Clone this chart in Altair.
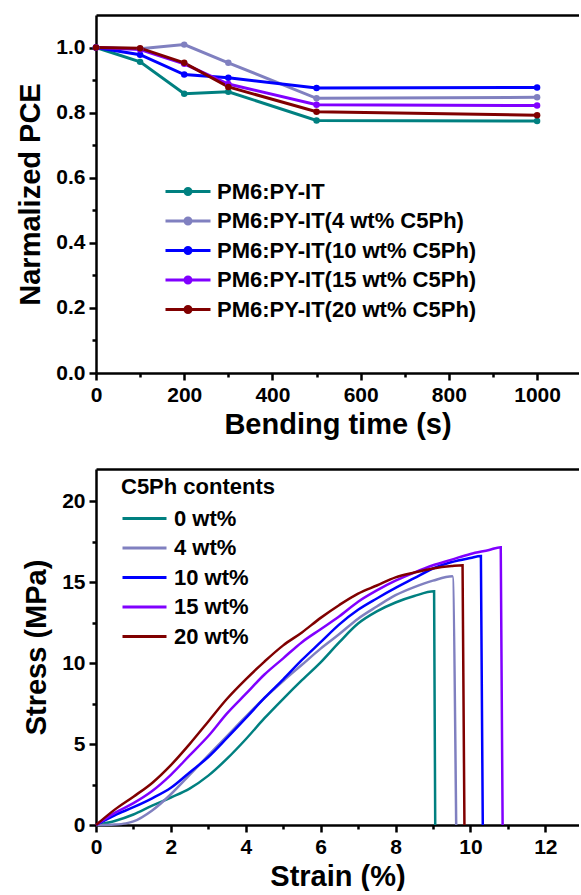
import altair as alt
import pandas as pd

# ---------------- Top panel data: normalized PCE vs bending time ----------------
time_s = [0, 100, 200, 300, 500, 1000]
samples = ["PM6:PY-IT", "PM6:PY-IT(4 wt% C5Ph)", "PM6:PY-IT(10 wt% C5Ph)",
           "PM6:PY-IT(15 wt% C5Ph)", "PM6:PY-IT(20 wt% C5Ph)"]
pce_0 = [1.0, 0.956, 0.858, 0.864, 0.776, 0.774]
pce_4 = [1.0, 0.996, 1.009, 0.953, 0.844, 0.847]
pce_10 = [1.0, 0.978, 0.917, 0.907, 0.876, 0.877]
pce_15 = [1.0, 0.994, 0.950, 0.888, 0.824, 0.822]
pce_20 = [1.0, 0.998, 0.953, 0.879, 0.803, 0.792]
colors = ["#008080", "#8080C0", "#0000FF", "#8000FF", "#800000"]

# ---------------- Bottom panel data: stress-strain ----------------
contents = ["0 wt%", "4 wt%", "10 wt%", "15 wt%", "20 wt%"]
strain_0 = [0, 0.5, 1.0, 1.5, 2.0, 2.5, 3.0, 3.5, 4.0, 4.5, 5.0, 5.5, 6.0, 6.5, 7.0, 7.5, 8.0, 8.5, 9.03, 9.06]
stress_0 = [0, 0.25, 0.65, 1.2, 1.7, 2.25, 3.05, 4.1, 5.3, 6.6, 7.8, 8.95, 10.05, 11.3, 12.45, 13.2, 13.75, 14.15, 14.44, 0]
strain_4 = [0, 0.5, 0.8, 1.0, 1.5, 2.0, 2.5, 3.0, 3.5, 4.0, 4.5, 5.0, 5.5, 6.0, 6.5, 7.0, 7.5, 8.0, 8.5, 9.0, 9.52, 9.62]
stress_4 = [0, 0.03, 0.1, 0.22, 0.9, 1.9, 3.1, 4.3, 5.5, 6.7, 7.85, 8.9, 9.9, 10.9, 11.8, 12.75, 13.5, 14.2, 14.7, 15.1, 15.37, 0]
strain_10 = [0, 0.5, 1.0, 1.5, 2.0, 2.5, 3.0, 3.5, 4.0, 4.5, 5.0, 5.5, 6.0, 6.5, 7.0, 7.5, 8.0, 8.5, 9.0, 9.5, 10.0, 10.28, 10.33]
stress_10 = [0, 0.6, 1.1, 1.65, 2.3, 3.25, 4.2, 5.38, 6.6, 7.85, 9.0, 10.2, 11.3, 12.4, 13.3, 14.0, 14.65, 15.25, 15.85, 16.25, 16.5, 16.62, 0]
strain_15 = [0, 0.5, 1.0, 1.5, 2.0, 2.5, 3.0, 3.5, 4.0, 4.5, 5.0, 5.5, 6.0, 6.5, 7.0, 7.5, 8.0, 8.5, 9.0, 9.5, 10.0, 10.5, 10.81, 10.86]
stress_15 = [0, 0.75, 1.35, 2.1, 3.1, 4.3, 5.5, 6.9, 8.1, 9.3, 10.3, 11.3, 12.1, 12.9, 13.8, 14.5, 15.1, 15.6, 16.05, 16.4, 16.75, 17.0, 17.17, 0]
strain_20 = [0, 0.5, 1.0, 1.5, 2.0, 2.5, 3.0, 3.5, 4.0, 4.5, 5.0, 5.5, 6.0, 6.5, 7.0, 7.5, 8.0, 8.5, 9.0, 9.5, 9.79, 9.84]
stress_20 = [0, 0.95, 1.75, 2.6, 3.7, 5.0, 6.4, 7.8, 9.0, 10.1, 11.1, 11.9, 12.8, 13.6, 14.3, 14.8, 15.3, 15.6, 15.85, 16.0, 16.05, 0]

# ---------------- tables ----------------
rows = []
for name, vals in zip(samples, [pce_0, pce_4, pce_10, pce_15, pce_20]):
    for i, (t, v) in enumerate(zip(time_s, vals)):
        rows.append({"sample": name, "time": t, "pce": v, "idx": i})
df_top = pd.DataFrame(rows)

rows = []
for name, xs, ys in zip(contents,
                        [strain_0, strain_4, strain_10, strain_15, strain_20],
                        [stress_0, stress_4, stress_10, stress_15, stress_20]):
    for i, (sx, sy) in enumerate(zip(xs, ys)):
        rows.append({"content": name, "strain": sx, "stress": sy, "idx": i})
df_bot = pd.DataFrame(rows)

FONT = "Liberation Sans"
W = 483

# ---------------- top panel ----------------
x_scale_top = alt.Scale(domain=[0, 1095], nice=False)
y_scale_top = alt.Scale(domain=[0, 1.1], nice=False)

y_top = alt.Y("pce:Q", scale=y_scale_top,
              axis=alt.Axis(values=[round(0.1 * i, 1) for i in range(11)],
                            tickSize={"condition": {"test": "round(datum.value*10) % 2 === 0", "value": 7}, "value": 4},
                            labelExpr="round(datum.value*10) % 2 === 0 ? format(datum.value, '.1f') : ''",
                            title="Narmalized PCE", labelPadding=4, titlePadding=10,
                            labelFlush=False, labelOverlap=False))

base_top = alt.Chart(df_top).encode(y=y_top)

legend_top = alt.Legend(
    orient="none", legendX=68, legendY=165, title=None,
    symbolType="M-1,0H3.5M1.55,0A0.3,0.3,0,1,1,0.95,0A0.3,0.3,0,1,1,1.55,0Z",
    symbolSize=400, symbolStrokeWidth=3, labelOffset=30, rowPadding=6.5, labelLimit=0,
    labelFont=FONT, labelFontSize=22, labelFontWeight="bold", labelColor="black",
)

lines_top = base_top.mark_line(strokeWidth=3, point=alt.OverlayMarkDef(filled=True, size=42)).encode(
    x=alt.X("time:Q", scale=x_scale_top,
            axis=alt.Axis(values=list(range(0, 1001, 100)), format="d",
                          tickSize={"condition": {"test": "datum.value % 200 === 0", "value": 7}, "value": 4},
                          labelExpr="datum.value % 200 === 0 ? datum.label : ''",
                          title="Bending time (s)", labelPadding=4, titlePadding=5,
                          labelFlush=False, labelOverlap=False)),
    color=alt.Color("sample:N", scale=alt.Scale(domain=samples, range=colors), legend=legend_top),
    order="idx:Q",
)

border_top = base_top.mark_point(opacity=0).encode(
    x=alt.X("time:Q", scale=x_scale_top,
            axis=alt.Axis(orient="top", labels=False, ticks=False, title=None)),
)

top = alt.layer(lines_top, border_top).resolve_axis(x="independent").properties(width=W, height=358)

# ---------------- bottom panel ----------------
x_scale_bot = alt.Scale(domain=[0, 12.9], nice=False)
y_scale_bot = alt.Scale(domain=[0, 22], nice=False)

y_bot = alt.Y("stress:Q", scale=y_scale_bot,
              axis=alt.Axis(values=[2.5 * i for i in range(9)],
                            tickSize={"condition": {"test": "datum.value % 5 === 0", "value": 7}, "value": 4},
                            labelExpr="datum.value % 5 === 0 ? datum.label : ''",
                            title="Stress (MPa)", labelPadding=4, titlePadding=10,
                            labelFlush=False, labelOverlap=False))

base_bot = alt.Chart(df_bot).encode(y=y_bot)

legend_bot = alt.Legend(
    orient="none", legendX=25, legendY=8, title="C5Ph contents",
    symbolType="M-1,0H3.4", symbolSize=400, symbolStrokeWidth=3, labelOffset=30, rowPadding=6.5,
    labelLimit=0,
    titleFont=FONT, titleFontSize=22, titleFontWeight="bold", titleColor="black", titlePadding=8,
    labelFont=FONT, labelFontSize=22, labelFontWeight="bold", labelColor="black",
)

lines_bot = base_bot.mark_line(strokeWidth=2.5, interpolate="monotone").encode(
    x=alt.X("strain:Q", scale=x_scale_bot,
            axis=alt.Axis(values=list(range(0, 13)),
                          tickSize={"condition": {"test": "datum.value % 2 === 0", "value": 7}, "value": 4},
                          labelExpr="datum.value % 2 === 0 ? datum.label : ''",
                          title="Strain (%)", labelPadding=4, titlePadding=5,
                          labelFlush=False, labelOverlap=False)),
    color=alt.Color("content:N", scale=alt.Scale(domain=contents, range=colors), legend=legend_bot),
    order="idx:Q",
)

border_bot = base_bot.mark_point(opacity=0).encode(
    x=alt.X("strain:Q", scale=x_scale_bot,
            axis=alt.Axis(orient="top", labels=False, ticks=False, title=None)),
)

bottom = alt.layer(lines_bot, border_bot).resolve_axis(x="independent").properties(width=W, height=356)

chart = alt.vconcat(top, bottom, spacing=30).resolve_scale(color="independent").properties(
    padding={"left": 16, "top": 15, "right": 0, "bottom": 0}
).configure_view(stroke=None).configure_axis(
    labelFont=FONT, labelFontSize=21, labelFontWeight="bold", labelColor="black",
    titleFont=FONT, titleFontSize=29, titleFontWeight="bold", titleColor="black",
    domainColor="black", domainWidth=2.5, tickColor="black", tickWidth=2.5, grid=False,
)

chart.save("out.html", embed_options={"renderer": "svg", "actions": False})
